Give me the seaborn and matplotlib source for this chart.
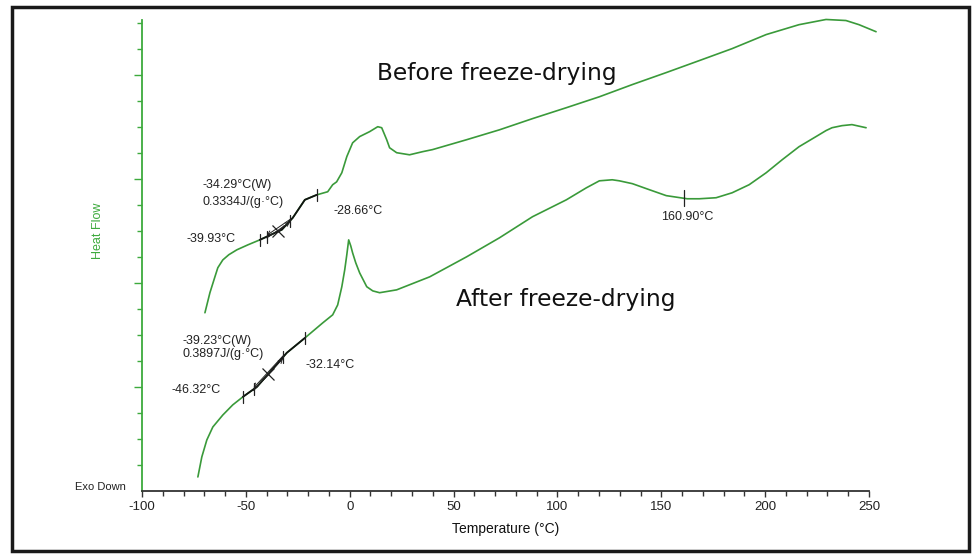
import numpy as np
import pandas as pd
import matplotlib
matplotlib.use("Agg")
import matplotlib.pyplot as plt
from matplotlib.patches import Rectangle
from matplotlib.ticker import MultipleLocator, FixedLocator
import seaborn as sns

# DSC heat-flow traces (temperature in °C, heat flow in arbitrary axis units, exo down)
before_temp = [-69.7, -67.3, -64.9, -63.5, -61.1, -58.2, -54.3, -49.0, -43.3, -32.7,
               -27.4, -21.6, -15.9, -10.6, -8.2, -6.3, -3.8, -1.4, 1.4, 4.8, 9.6,
               13.5, 15.4, 17.8, 19.2, 22.6, 28.8, 35.1, 39.9, 56.3, 72.1, 88.0,
               104.3, 120.2, 136.1, 152.4, 168.3, 184.1, 200.5, 216.3, 229.3, 238.9,
               245.2, 253.4]
before_flow = [6.85, 7.62, 8.23, 8.58, 8.88, 9.08, 9.27, 9.46, 9.65, 10.04,
               10.50, 11.19, 11.38, 11.50, 11.77, 11.88, 12.23, 12.85, 13.38, 13.62, 13.81,
               14.00, 13.96, 13.50, 13.19, 13.00, 12.92, 13.04, 13.12, 13.50, 13.88, 14.31,
               14.73, 15.15, 15.62, 16.08, 16.54, 17.00, 17.54, 17.92, 18.12, 18.08,
               17.92, 17.65]

after_temp = [-73.1, -71.2, -68.8, -65.9, -61.1, -56.3, -51.4, -44.7, -37.5, -30.3,
              -21.6, -13.0, -8.2, -5.8, -3.8, -2.4, -1.4, -0.5, 0.5, 1.4, 2.9, 4.8,
              8.2, 11.1, 14.4, 22.6, 38.5, 56.3, 72.1, 88.0, 104.3, 113.9, 120.2,
              126.4, 129.8, 136.1, 144.2, 152.4, 162.5, 168.3, 176.4, 184.1, 192.3,
              200.5, 208.2, 216.3, 224.5, 229.3, 232.2, 237.0, 241.8, 248.6]
after_flow = [0.54, 1.31, 1.96, 2.46, 2.92, 3.31, 3.62, 4.00, 4.65, 5.31,
              5.88, 6.46, 6.77, 7.15, 7.85, 8.50, 9.08, 9.65, 9.42, 9.15, 8.77, 8.38,
              7.85, 7.69, 7.62, 7.73, 8.23, 9.00, 9.73, 10.54, 11.19, 11.65, 11.92,
              11.96, 11.92, 11.81, 11.58, 11.35, 11.23, 11.23, 11.27, 11.46, 11.77,
              12.23, 12.73, 13.23, 13.62, 13.85, 13.96, 14.04, 14.08, 13.96]

# Glass-transition analysis results
before_tg = {"onset": -39.93, "mid": -34.29, "end": -28.66, "cp": 0.3334,
             "limits": (-43.3, -15.9)}
after_tg = {"onset": -46.32, "mid": -39.23, "end": -32.14, "cp": 0.3897,
            "limits": (-51.4, -21.6)}
after_min_temp = 160.90

GREEN = "#3a9a3a"
AXIS_GREEN = "#3daa3d"
DARK = "#333333"

sns.set_style("ticks")
plt.rcParams["font.family"] = ["Liberation Sans", "DejaVu Sans"]
plt.rcParams["axes.unicode_minus"] = False

fig = plt.figure(figsize=(9.72, 5.54), dpi=100)
ax = fig.add_axes([142 / 972, 63 / 554, 727 / 972, 471 / 554])

df = pd.concat([
    pd.DataFrame({"Temperature": before_temp, "Heat Flow": before_flow, "run": "before"}),
    pd.DataFrame({"Temperature": after_temp, "Heat Flow": after_flow, "run": "after"}),
])
sns.lineplot(data=df, x="Temperature", y="Heat Flow", units="run", estimator=None,
             sort=False, color=GREEN, lw=1.2, ax=ax, legend=False)
for ln in ax.get_lines():
    ln.set_clip_on(False)
    ln.set_solid_joinstyle("round")


def tick_mark(x, temps, flows, half=0.23):
    y = np.interp(x, temps, flows)
    ax.plot([x, x], [y - half, y + half], color="#222222", lw=0.9, clip_on=False)
    return y


def glass_transition(tg, temps, flows):
    temps = np.asarray(temps)
    flows = np.asarray(flows)
    lo, hi = tg["limits"]
    seg_t = np.concatenate([[lo], temps[(temps > lo) & (temps < hi)], [hi]])
    seg_f = np.interp(seg_t, temps, flows)
    ax.plot(seg_t, seg_f, color="#111111", lw=1.3)
    for x in (lo, hi):
        tick_mark(x, temps, flows)
    y_on = tick_mark(tg["onset"], temps, flows)
    y_end = tick_mark(tg["end"], temps, flows)
    y_mid = np.interp(tg["mid"], temps, flows)
    # tangent construction between onset and end
    ax.annotate("", xy=(tg["onset"], y_on + 0.05), xytext=(tg["end"], y_end + 0.05),
                arrowprops=dict(arrowstyle="->", lw=0.7, color="#222222",
                                shrinkA=0, shrinkB=0, mutation_scale=7))
    ax.annotate("", xy=(tg["end"], y_end - 0.05), xytext=(tg["onset"], y_on - 0.05),
                arrowprops=dict(arrowstyle="->", lw=0.7, color="#222222",
                                shrinkA=0, shrinkB=0, mutation_scale=7))
    ax.plot([tg["mid"]], [y_mid], marker="x", ms=8, mew=0.9, color="#222222")


glass_transition(before_tg, before_temp, before_flow)
glass_transition(after_tg, after_temp, after_flow)
tick_mark(after_min_temp, after_temp, after_flow, half=0.3)

# annotation text
small = dict(fontsize=9, color="#222222", va="center")
ax.text(-70.7, 11.77, f"{before_tg['mid']:.2f}°C(W)", **small)
ax.text(-70.7, 11.12, f"{before_tg['cp']:.4f}J/(g·°C)", **small)
ax.text(-78.4, 9.69, f"{before_tg['onset']:.2f}°C", **small)
ax.text(-7.7, 10.77, f"{before_tg['end']:.2f}°C", **small)
ax.text(-80.3, 5.77, f"{after_tg['mid']:.2f}°C(W)", **small)
ax.text(-80.3, 5.27, f"{after_tg['cp']:.4f}J/(g·°C)", **small)
ax.text(-85.6, 3.88, f"{after_tg['onset']:.2f}°C", **small)
ax.text(-21.2, 4.85, f"{after_tg['end']:.2f}°C", **small)
ax.text(after_min_temp + 1.5, 10.54, f"{after_min_temp:.2f}°C", ha="center", **small)

big = dict(fontsize=16.8, color="#111111", va="center", family="DejaVu Sans")
ax.text(13.0, 16.04, "Before freeze-drying", ha="left", **big)
ax.text(51.0, 7.35, "After freeze-drying", ha="left", **big)

# axes styling
ax.set_xlim(-100, 250)
ax.set_ylim(0, 18.1)
ax.xaxis.set_major_locator(MultipleLocator(50))
ax.xaxis.set_minor_locator(MultipleLocator(10))
ax.yaxis.set_major_locator(FixedLocator([4, 8, 12, 16]))
ax.yaxis.set_minor_locator(FixedLocator([1, 2, 3, 5, 6, 7, 9, 10, 11, 13, 14, 15, 17, 18]))
ax.tick_params(axis="y", which="major", length=6, width=1, color=AXIS_GREEN, labelleft=False)
ax.tick_params(axis="y", which="minor", length=3.6, width=1, color=AXIS_GREEN)
ax.tick_params(axis="x", which="major", length=4.5, width=1, color=DARK,
               labelsize=9.5, labelcolor="#222222", pad=3)
ax.tick_params(axis="x", which="minor", length=3.5, width=1, color=DARK)
for side in ("top", "right"):
    ax.spines[side].set_visible(False)
ax.spines["left"].set_color(AXIS_GREEN)
ax.spines["left"].set_linewidth(1.3)
ax.spines["bottom"].set_color(DARK)
ax.spines["bottom"].set_linewidth(1.3)
ax.set_xlabel("Temperature (°C)", fontsize=10, color="#111111", labelpad=6)
ax.set_ylabel("")

fig.text(98 / 972, 1 - 231 / 554, "Heat Flow", rotation=90, color=AXIS_GREEN,
         fontsize=9, ha="center", va="center")
fig.text(75 / 972, 1 - 487 / 554, "Exo Down", color="#222222", fontsize=8,
         ha="left", va="center")

# picture frame
fig.patches.append(Rectangle((12 / 972, 3 / 554), 957 / 972, 544 / 554,
                             transform=fig.transFigure, fill=False,
                             edgecolor="#1a1a1a", lw=2.5))

fig.savefig("out.png", dpi=100)
